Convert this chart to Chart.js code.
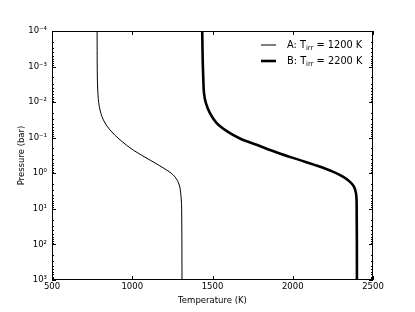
<!DOCTYPE html>
<html>
<head>
<meta charset="utf-8">
<script src="https://cdn.jsdelivr.net/npm/chart.js@4/dist/chart.umd.min.js"></script>
<style>
html,body{margin:0;padding:0;background:#fff;}
#wrap{width:415px;height:312px;}
</style>
</head>
<body>
<div id="wrap"><canvas id="c" width="415" height="312"></canvas></div>
<script>
// ---- data ----
const seriesNames = ['A', 'B'];
const tIrr = [1200, 2200];
const pressureA = [1e-4, 1.26e-3, 4.57e-3, 1.35e-2, 3.16e-2, 6.03e-2, 0.115, 0.224, 0.427, 0.813, 1.26, 2.14, 4.57, 10.7, 1e3];
const tempA     = [781, 782, 785, 795, 820, 861, 924, 1007, 1111, 1215, 1266, 1293, 1304, 1308, 1310];
const pressureB = [1e-4, 6.6e-4, 2.4e-3, 5.6e-3, 1.07e-2, 2.04e-2, 3.89e-2, 6.76e-2, 0.105, 0.158, 0.269, 0.427, 0.589, 0.912, 1.26, 1.74, 2.40, 3.63, 6.31, 1e3];
const tempB     = [1436, 1439, 1443, 1447, 1459, 1484, 1526, 1594, 1671, 1775, 1910, 2045, 2140, 2253, 2315, 2357, 2382, 2394, 2398, 2400];
const xTickValues = [500, 1000, 1500, 2000, 2500];
const yTickValues = [1e-4, 1e-3, 1e-2, 1e-1, 1e0, 1e1, 1e2, 1e3];
const xTitle = 'Temperature (K)';
const yTitle = 'Pressure (bar)';
const lineWidths = [1, 2.6];

const FONT = 'DejaVu Sans';
const SUP = {'-':'\u207B','0':'\u2070','1':'\u00B9','2':'\u00B2','3':'\u00B3','4':'\u2074','5':'\u2075','6':'\u2076','7':'\u2077','8':'\u2078','9':'\u2079'};
function supText(n){ return String(n).split('').map(ch => SUP[ch]).join(''); }

function toPoints(ps, ts){ return ps.map((p,i)=>({x: ts[i], y: p})); }

const frameTicks = {
  id: 'frameTicks',
  afterDatasetsDraw(chart){
    const {ctx, chartArea:a, scales:{x, y}} = chart;
    ctx.save();
    ctx.strokeStyle = '#000';
    ctx.lineWidth = 1;
    ctx.strokeRect(a.left + 0.5, a.top + 0.5, a.right - a.left - 1, a.bottom - a.top - 1);
    ctx.beginPath();
    xTickValues.forEach(v => {
      const px = Math.round(x.getPixelForValue(v)) + 0.5;
      ctx.moveTo(px, a.bottom); ctx.lineTo(px, a.bottom - 4);
      ctx.moveTo(px, a.top); ctx.lineTo(px, a.top + 4);
    });
    for (let e = -4; e <= 3; e++) {
      const py = Math.round(y.getPixelForValue(Math.pow(10, e))) + 0.5;
      ctx.moveTo(a.left, py); ctx.lineTo(a.left + 4, py);
      ctx.moveTo(a.right, py); ctx.lineTo(a.right - 4, py);
      if (e < 3) {
        for (let m = 2; m <= 9; m++) {
          const pm = Math.round(y.getPixelForValue(m * Math.pow(10, e))) + 0.5;
          ctx.moveTo(a.left, pm); ctx.lineTo(a.left + 2, pm);
          ctx.moveTo(a.right, pm); ctx.lineTo(a.right - 2, pm);
        }
      }
    }
    ctx.stroke();

    // legend (no frame), with subscript "irr"
    const rows = [45, 61];
    seriesNames.forEach((name, i) => {
      const yy = rows[i];
      ctx.beginPath();
      ctx.lineWidth = lineWidths[i];
      ctx.moveTo(261, yy); ctx.lineTo(276, yy);
      ctx.stroke();
      ctx.fillStyle = '#000';
      ctx.textBaseline = 'middle';
      ctx.textAlign = 'left';
      let tx = 287;
      ctx.font = '9.8px "' + FONT + '"';
      const s1 = name + ': T';
      ctx.fillText(s1, tx, yy); tx += ctx.measureText(s1).width;
      ctx.font = '6.8px "' + FONT + '"';
      ctx.fillText('irr', tx, yy + 2.8); tx += ctx.measureText('irr').width;
      ctx.font = '9.8px "' + FONT + '"';
      ctx.fillText(' = ' + tIrr[i] + ' K', tx, yy);
    });
    ctx.restore();
  }
};

new Chart(document.getElementById('c'), {
  type: 'scatter',
  data: {
    datasets: [
      { label: seriesNames[0] + ': T_irr = ' + tIrr[0] + ' K', data: toPoints(pressureA, tempA),
        showLine: true, borderColor: '#000', borderWidth: lineWidths[0], pointRadius: 0,
        tension: 0.35, fill: false },
      { label: seriesNames[1] + ': T_irr = ' + tIrr[1] + ' K', data: toPoints(pressureB, tempB),
        showLine: true, borderColor: '#000', borderWidth: lineWidths[1], pointRadius: 0,
        tension: 0.35, fill: false }
    ]
  },
  options: {
    responsive: false,
    animation: false,
    devicePixelRatio: 1,
    layout: { padding: { top: 31, right: 42, left: 0, bottom: 0 } },
    plugins: { legend: { display: false }, tooltip: { enabled: false } },
    scales: {
      x: {
        type: 'linear', min: 500, max: 2500,
        afterBuildTicks: s => { s.ticks = xTickValues.map(v => ({value: v})); },
        afterFit: s => { s.height = 32; },
        grid: { display: false, drawTicks: false },
        border: { display: false },
        ticks: { color: '#000', padding: 2, font: { family: FONT, size: 8.5 }, maxRotation: 0,
          callback: v => String(v) },
        title: { display: true, text: xTitle, color: '#000', padding: 6, font: { family: FONT, size: 8.5 } }
      },
      y: {
        type: 'logarithmic', reverse: true, min: 1e-4, max: 1e3,
        afterBuildTicks: s => { s.ticks = yTickValues.map(v => ({value: v})); },
        afterFit: s => { s.width = 52; },
        grid: { display: false, drawTicks: false },
        border: { display: false },
        ticks: { color: '#000', padding: 5, font: { family: FONT, size: 8.5 },
          callback: v => '10' + supText(Math.round(Math.log10(v))) },
        title: { display: true, text: yTitle, color: '#000', padding: 17, font: { family: FONT, size: 8.5 } }
      }
    }
  },
  plugins: [frameTicks]
});
</script>
</body>
</html>
